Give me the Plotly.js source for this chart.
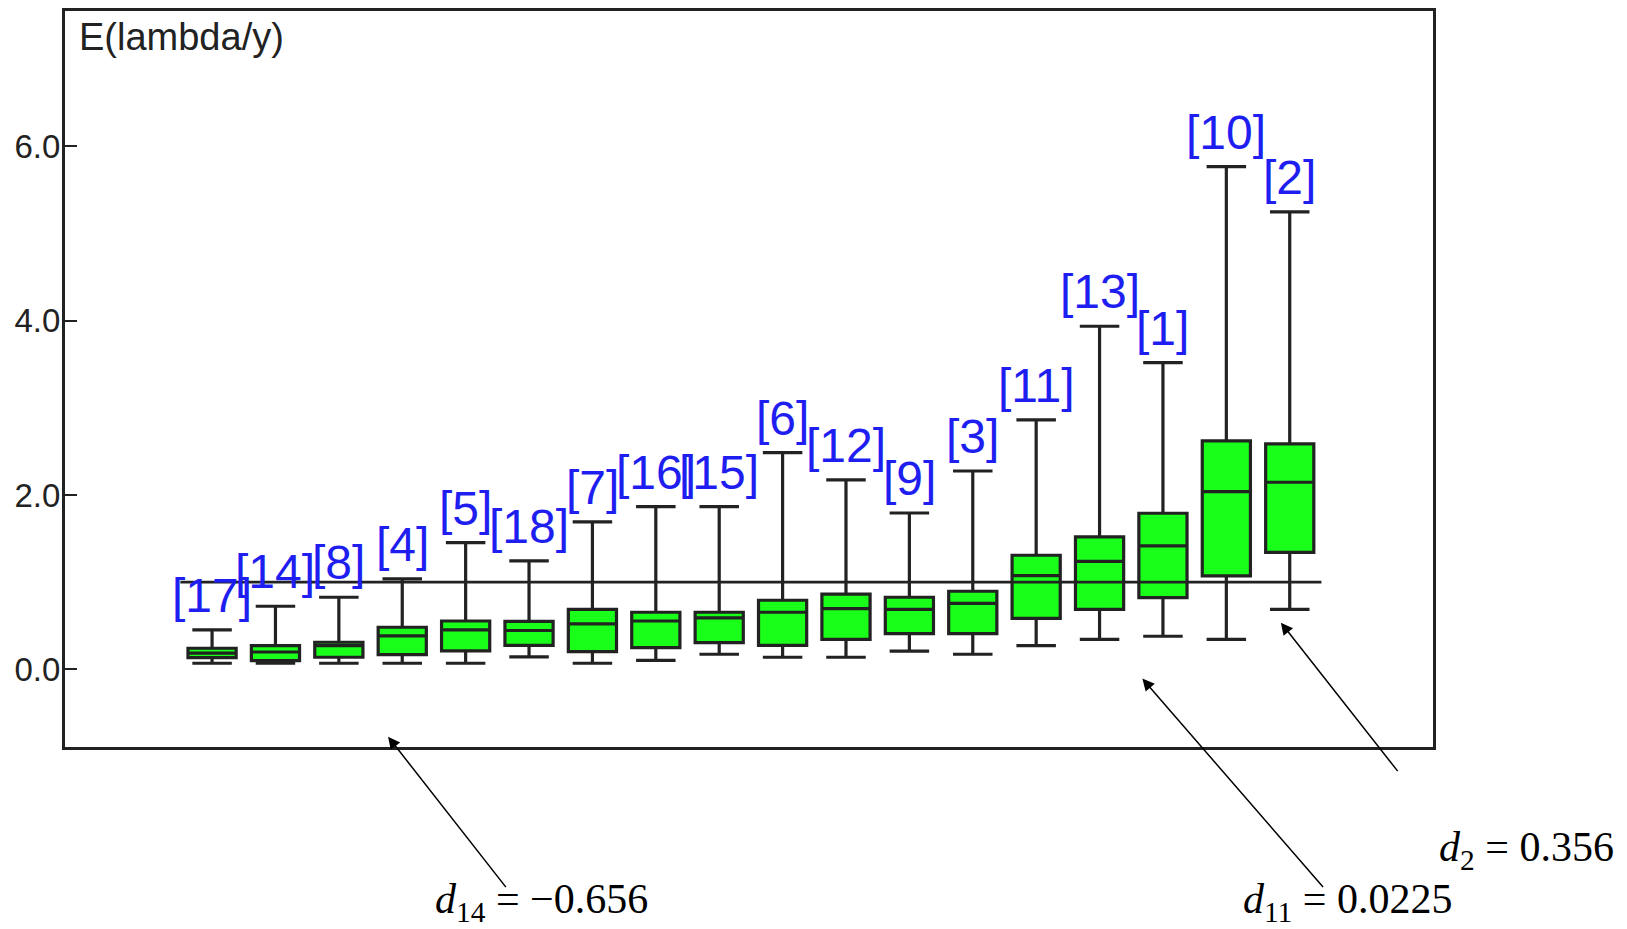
<!DOCTYPE html>
<html>
<head>
<meta charset="utf-8">
<script src="https://cdn.plot.ly/plotly-3.0.1.min.js"></script>
<style>
  html, body { margin: 0; padding: 0; background: #ffffff; }
  #chart { width: 1627px; height: 929px; }
</style>
</head>
<body>
<div id="chart"></div>
<script>
// Group labels, ordered by increasing median
const groupLabels = ['[17]', '[14]', '[8]', '[4]', '[5]', '[18]', '[7]', '[16]', '[15]',
                     '[6]', '[12]', '[9]', '[3]', '[11]', '[13]', '[1]', '[10]', '[2]'];

// Box statistics of E(lambda/y) for each group
const lowerWhisker = [0.069, 0.069, 0.069, 0.069, 0.069, 0.141, 0.069, 0.103, 0.172,
                      0.138, 0.138, 0.207, 0.172, 0.271, 0.344, 0.379, 0.344, 0.688];
const quartile1    = [0.133, 0.099, 0.138, 0.168, 0.210, 0.273, 0.202, 0.248, 0.305,
                      0.275, 0.344, 0.409, 0.409, 0.585, 0.688, 0.822, 1.071, 1.342];
const medians      = [0.184, 0.198, 0.271, 0.382, 0.451, 0.445, 0.520, 0.554, 0.589,
                      0.654, 0.696, 0.688, 0.757, 1.074, 1.239, 1.415, 2.038, 2.146];
const quartile3    = [0.241, 0.271, 0.310, 0.482, 0.554, 0.550, 0.688, 0.654, 0.654,
                      0.792, 0.861, 0.826, 0.895, 1.308, 1.518, 1.790, 2.620, 2.585];
const upperWhisker = [0.451, 0.723, 0.826, 1.036, 1.453, 1.243, 1.690, 1.866, 1.866,
                      2.486, 2.172, 1.793, 2.275, 2.861, 3.936, 3.518, 5.767, 5.247];

// Reference level E = 1 across the groups
const refLevel = 1.0;

// y-axis ticks
const yTickVals = [0, 2, 4, 6];
const yTickText = ['0.0', '2.0', '4.0', '6.0'];

// Callouts below the axes: text, arrow tip (data units), text anchor
const callouts = [
  { text: '<i>d</i><sub>14</sub> = \u22120.656', tipX: 2.776,  tipY: -0.773, ax: 119, ay: 152, tx: 0.269, ty: -0.211 },
  { text: '<i>d</i><sub>11</sub> = 0.0225',       tipX: 14.675, tipY: -0.107, ax: 182, ay: 210, tx: 0.860, ty: -0.211 },
  { text: '<i>d</i><sub>2</sub> = 0.356',         tipX: 16.86,  tipY: 0.535,  ax: 118, ay: 150, tx: 1.003, ty: -0.140 }
];

const positions = groupLabels.map((_, i) => i);
const ink = '#222222';
const labelBlue = '#1e1ef0';

const refTrace = {
  type: 'scatter',
  mode: 'lines',
  x: [positions[0] - 0.5, positions[positions.length - 1] + 0.5],
  y: [refLevel, refLevel],
  line: { color: ink, width: 2.6 },
  hoverinfo: 'skip',
  showlegend: false
};

const boxTrace = {
  type: 'box',
  x: positions,
  q1: quartile1,
  median: medians,
  q3: quartile3,
  lowerfence: lowerWhisker,
  upperfence: upperWhisker,
  boxpoints: false,
  width: 0.76,
  whiskerwidth: 0.82,
  fillcolor: '#1aff1a',
  line: { color: ink, width: 3.2 },
  showlegend: false
};

const annotations = [];

// Group labels above the upper whiskers
groupLabels.forEach((lab, i) => {
  annotations.push({
    x: positions[i], y: upperWhisker[i], xref: 'x', yref: 'y',
    text: lab, showarrow: false, yanchor: 'bottom', xanchor: 'center',
    yshift: 6,
    font: { family: 'Liberation Sans, Arial, sans-serif', size: 48, color: labelBlue }
  });
});

// Axis title inside the frame, top-left
annotations.push({
  x: 0.0085, y: 0.996, xref: 'paper', yref: 'paper',
  text: 'E(lambda/y)', showarrow: false, xanchor: 'left', yanchor: 'top',
  font: { family: 'Liberation Sans, Arial, sans-serif', size: 38, color: ink }
});

// Callout arrows and their texts
callouts.forEach(c => {
  annotations.push({
    x: c.tipX, y: c.tipY, xref: 'x', yref: 'y',
    ax: c.ax, ay: c.ay, axref: 'pixel', ayref: 'pixel',
    text: '', showarrow: true, arrowhead: 2, arrowsize: 1.6, arrowwidth: 1.5,
    arrowcolor: '#000000', standoff: 0, startstandoff: 0
  });
  annotations.push({
    x: c.tx, y: c.ty, xref: 'paper', yref: 'paper',
    text: c.text, showarrow: false, xanchor: 'left', yanchor: 'middle',
    font: { family: 'Liberation Serif, DejaVu Serif, serif', size: 42, color: '#000000' }
  });
});

const layout = {
  width: 1627,
  height: 929,
  margin: { l: 65, r: 194, t: 11, b: 182, pad: 0 },
  paper_bgcolor: '#ffffff',
  plot_bgcolor: '#ffffff',
  showlegend: false,
  hovermode: false,
  xaxis: {
    range: [-2.32, 19.26],
    showticklabels: false,
    ticks: '',
    showgrid: false,
    zeroline: false,
    showline: true,
    mirror: true,
    linecolor: ink,
    linewidth: 3
  },
  yaxis: {
    range: [-0.892, 7.553],
    tickvals: yTickVals,
    ticktext: yTickText,
    ticks: 'inside',
    ticklen: 12,
    tickwidth: 2,
    tickcolor: ink,
    ticklabelstandoff: -5,
    tickfont: { family: 'Liberation Sans, Arial, sans-serif', size: 33, color: ink },
    showgrid: false,
    zeroline: false,
    showline: true,
    mirror: true,
    linecolor: ink,
    linewidth: 3
  },
  annotations: annotations
};

Plotly.newPlot('chart', [refTrace, boxTrace], layout, { staticPlot: true, displayModeBar: false });
</script>
</body>
</html>
